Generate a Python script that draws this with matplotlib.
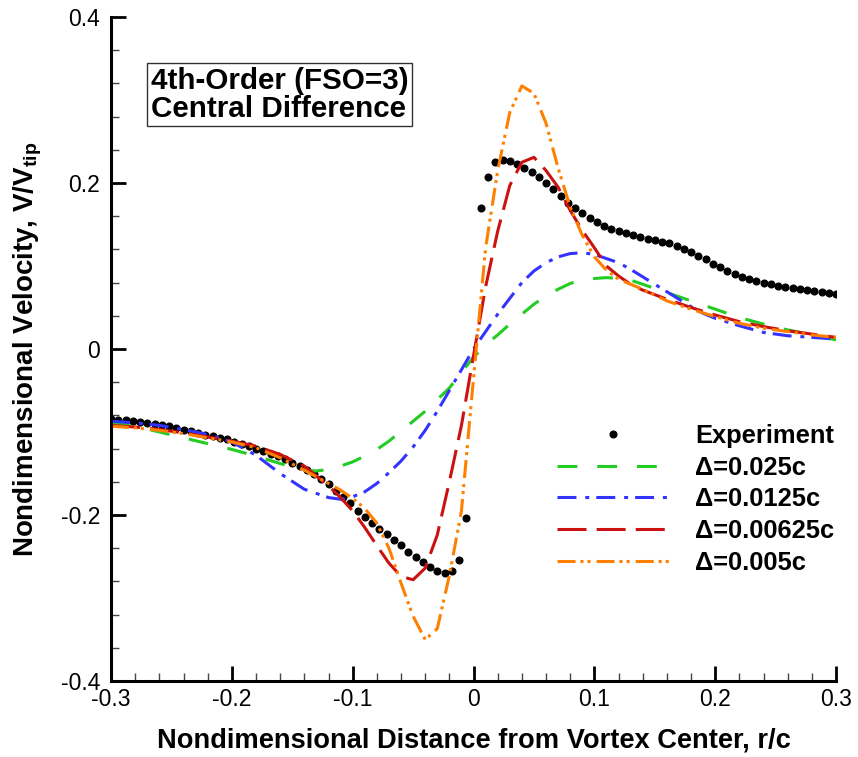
import numpy as np
import matplotlib
matplotlib.use("Agg")
import matplotlib.pyplot as plt

plt.rcParams['font.family'] = ['Liberation Sans', 'DejaVu Sans']
plt.rcParams['axes.unicode_minus'] = False

# experimental data (r/c, V/Vtip)
expX = [-0.300, -0.294, -0.288, -0.282, -0.276, -0.270, -0.264, -0.258, -0.252, -0.246,
        -0.240, -0.234, -0.228, -0.222, -0.216, -0.210, -0.204, -0.198, -0.192, -0.186,
        -0.180, -0.174, -0.168, -0.162, -0.156, -0.150, -0.144, -0.138, -0.132, -0.126,
        -0.120, -0.114, -0.108, -0.102, -0.096, -0.090, -0.084, -0.078, -0.072, -0.066,
        -0.060, -0.054, -0.048, -0.042, -0.036, -0.030, -0.024, -0.018, -0.012, -0.006,
        0.006, 0.012, 0.018, 0.024, 0.030, 0.036, 0.042, 0.048, 0.054, 0.060,
        0.066, 0.072, 0.078, 0.084, 0.090, 0.096, 0.102, 0.108, 0.114, 0.120,
        0.126, 0.132, 0.138, 0.144, 0.150, 0.156, 0.162, 0.168, 0.174, 0.180,
        0.186, 0.192, 0.198, 0.204, 0.210, 0.216, 0.222, 0.228, 0.234, 0.240,
        0.246, 0.252, 0.258, 0.264, 0.270, 0.276, 0.282, 0.288, 0.294, 0.300]
expY = [-0.084, -0.085, -0.086, -0.087, -0.088, -0.089, -0.090, -0.092, -0.093, -0.095,
        -0.097, -0.099, -0.101, -0.103, -0.105, -0.107, -0.109, -0.112, -0.114, -0.117,
        -0.120, -0.123, -0.126, -0.129, -0.133, -0.137, -0.141, -0.146, -0.151, -0.157,
        -0.163, -0.171, -0.178, -0.186, -0.195, -0.203, -0.210, -0.217, -0.223, -0.230,
        -0.236, -0.244, -0.250, -0.257, -0.263, -0.268, -0.270, -0.267, -0.254, -0.204,
        0.170, 0.207, 0.225, 0.228, 0.227, 0.223, 0.218, 0.213, 0.207, 0.200,
        0.193, 0.184, 0.176, 0.170, 0.164, 0.158, 0.153, 0.148, 0.145, 0.142,
        0.140, 0.137, 0.135, 0.133, 0.131, 0.129, 0.128, 0.124, 0.121, 0.117,
        0.112, 0.108, 0.103, 0.099, 0.094, 0.090, 0.087, 0.084, 0.082, 0.080,
        0.078, 0.076, 0.075, 0.074, 0.072, 0.071, 0.070, 0.069, 0.068, 0.066]

# delta = 0.025c
gX = [-0.30, -0.28, -0.26, -0.24, -0.22, -0.20, -0.18, -0.16, -0.15, -0.14, -0.13, -0.12,
      -0.11, -0.10, -0.09, -0.08, -0.07, -0.06, -0.05, -0.04, -0.03, -0.02, -0.01, 0.00,
      0.01, 0.02, 0.03, 0.04, 0.05, 0.06, 0.07, 0.08, 0.09, 0.10, 0.11, 0.12, 0.13, 0.14,
      0.15, 0.16, 0.17, 0.18, 0.19, 0.20, 0.22, 0.24, 0.26, 0.28, 0.30]
gY = [-0.089, -0.093, -0.100, -0.107, -0.114, -0.121, -0.129, -0.138, -0.142, -0.146, -0.147, -0.145,
      -0.141, -0.136, -0.129, -0.121, -0.111, -0.099, -0.087, -0.075, -0.061, -0.047, -0.028, -0.010,
      0.005, 0.017, 0.030, 0.042, 0.054, 0.064, 0.072, 0.079, 0.083, 0.085, 0.086, 0.085, 0.083, 0.078,
      0.073, 0.068, 0.063, 0.058, 0.053, 0.048, 0.038, 0.030, 0.023, 0.017, 0.011]

# delta = 0.0125c
bX = [-0.30, -0.28, -0.26, -0.24, -0.22, -0.20, -0.18, -0.16, -0.14, -0.12, -0.11, -0.10,
      -0.09, -0.08, -0.07, -0.06, -0.05, -0.04, -0.03, -0.02, -0.01, 0.00, 0.01, 0.02,
      0.03, 0.04, 0.05, 0.06, 0.07, 0.08, 0.09, 0.10, 0.11, 0.12, 0.13, 0.14, 0.15, 0.16,
      0.17, 0.18, 0.19, 0.20, 0.22, 0.24, 0.26, 0.28, 0.30]
bY = [-0.087, -0.089, -0.092, -0.097, -0.103, -0.112, -0.128, -0.150, -0.169, -0.179, -0.181, -0.178,
      -0.172, -0.162, -0.149, -0.135, -0.118, -0.098, -0.075, -0.050, -0.025, 0.000, 0.021, 0.042,
      0.061, 0.080, 0.094, 0.104, 0.111, 0.115, 0.116, 0.114, 0.109, 0.104, 0.096, 0.087, 0.078, 0.069,
      0.060, 0.051, 0.043, 0.037, 0.028, 0.020, 0.016, 0.014, 0.012]

# delta = 0.00625c
rX = [-0.30, -0.28, -0.26, -0.24, -0.22, -0.20, -0.18, -0.16, -0.14, -0.12, -0.11, -0.10,
      -0.09, -0.08, -0.07, -0.06, -0.05, -0.04, -0.03, -0.02, -0.01, 0.00, 0.01, 0.02,
      0.03, 0.04, 0.05, 0.06, 0.07, 0.08, 0.09, 0.10, 0.11, 0.12, 0.13, 0.14, 0.16, 0.18,
      0.20, 0.22, 0.24, 0.26, 0.28, 0.30]
rY = [-0.092, -0.094, -0.097, -0.101, -0.106, -0.111, -0.117, -0.127, -0.141, -0.165, -0.179, -0.195,
      -0.215, -0.237, -0.258, -0.274, -0.278, -0.264, -0.224, -0.160, -0.092, -0.008, 0.075, 0.142,
      0.197, 0.225, 0.231, 0.215, 0.195, 0.167, 0.143, 0.122, 0.100, 0.088, 0.078, 0.071, 0.060, 0.050,
      0.041, 0.033, 0.027, 0.022, 0.018, 0.014]

# delta = 0.005c
oX = [-0.30, -0.28, -0.26, -0.24, -0.22, -0.20, -0.18, -0.16, -0.14, -0.12, -0.11, -0.10,
      -0.09, -0.08, -0.07, -0.06, -0.05, -0.04, -0.03, -0.02, -0.01, 0.00, 0.01, 0.02,
      0.03, 0.04, 0.05, 0.06, 0.07, 0.08, 0.09, 0.10, 0.11, 0.12, 0.14, 0.16, 0.18, 0.20,
      0.22, 0.24, 0.26, 0.28, 0.30]
oY = [-0.093, -0.095, -0.098, -0.102, -0.107, -0.112, -0.119, -0.131, -0.146, -0.162, -0.170, -0.180,
      -0.192, -0.210, -0.240, -0.282, -0.322, -0.350, -0.337, -0.273, -0.195, -0.035, 0.122, 0.215,
      0.285, 0.317, 0.308, 0.272, 0.218, 0.171, 0.137, 0.111, 0.095, 0.084, 0.072, 0.058, 0.048, 0.039,
      0.031, 0.025, 0.021, 0.017, 0.014]

fig = plt.figure(figsize=(8.58, 7.57), dpi=100)
ax = fig.add_axes([0.1294, 0.1004, 0.845, 0.8771])

lw = 2.2
ax.plot(expX, expY, ls='none', marker='o', ms=4.8, color='black', label='Experiment')
ax.plot(gX, gY, color='#22cc22', lw=lw, dashes=(6.5, 6.5), label=u'\u0394=0.025c')
ax.plot(bX, bY, color='#3333ff', lw=lw, dashes=(6.2, 2.9, 1.3, 2.3), label=u'\u0394=0.0125c')
ax.plot(rX, rY, color='#cc1111', lw=lw, dashes=(9.5, 3.3), label=u'\u0394=0.00625c')
ax.plot(oX, oY, color='#ff8000', lw=lw, dashes=(5.9, 1.6, 1.0, 1.3, 1.0, 2.0), label=u'\u0394=0.005c')

ax.set_xlim(-0.3, 0.3)
ax.set_ylim(-0.4, 0.4)
ax.set_xticks([-0.3, -0.2, -0.1, 0, 0.1, 0.2, 0.3])
ax.set_xticklabels(['-0.3', '-0.2', '-0.1', '0', '0.1', '0.2', '0.3'])
ax.set_yticks([-0.4, -0.2, 0, 0.2, 0.4])
ax.set_yticklabels(['-0.4', '-0.2', '0', '0.2', '0.4'])
ax.set_xticks(np.arange(-0.3, 0.3001, 0.02), minor=True)
ax.set_yticks(np.arange(-0.4, 0.4001, 0.04), minor=True)
ax.tick_params(which='major', direction='in', length=11, width=2, labelsize=16.5, pad=8)
ax.tick_params(which='minor', direction='in', length=6, width=1, color='#444444')
ax.tick_params(axis='x', which='major', pad=5)

for s in ['top', 'right']:
    ax.spines[s].set_visible(False)
for s in ['left', 'bottom']:
    ax.spines[s].set_linewidth(2.2)

ax.set_xlabel('Nondimensional Distance from Vortex Center, r/c', fontsize=19.6,
              fontweight='bold', labelpad=12)
ax.set_ylabel(r'Nondimensional Velocity, V/V$_\mathregular{tip}$', fontsize=20,
              fontweight='bold', labelpad=12)

ax.text(0.055, 0.925, '4th-Order (FSO=3)\nCentral Difference', transform=ax.transAxes,
        fontsize=21.3, fontweight='bold', va='top', ha='left', linespacing=1.0,
        bbox=dict(boxstyle='square,pad=0.12', facecolor='white', edgecolor='#333333', lw=1))

leg = ax.legend(loc='upper left', bbox_to_anchor=(0.615, 0.387), frameon=False,
                fontsize=18.4, handlelength=4.4, handletextpad=1.0, labelspacing=0.3,
                borderpad=0, borderaxespad=0)
for t in leg.get_texts():
    t.set_fontweight('bold')

fig.savefig('out.png', dpi=100)
